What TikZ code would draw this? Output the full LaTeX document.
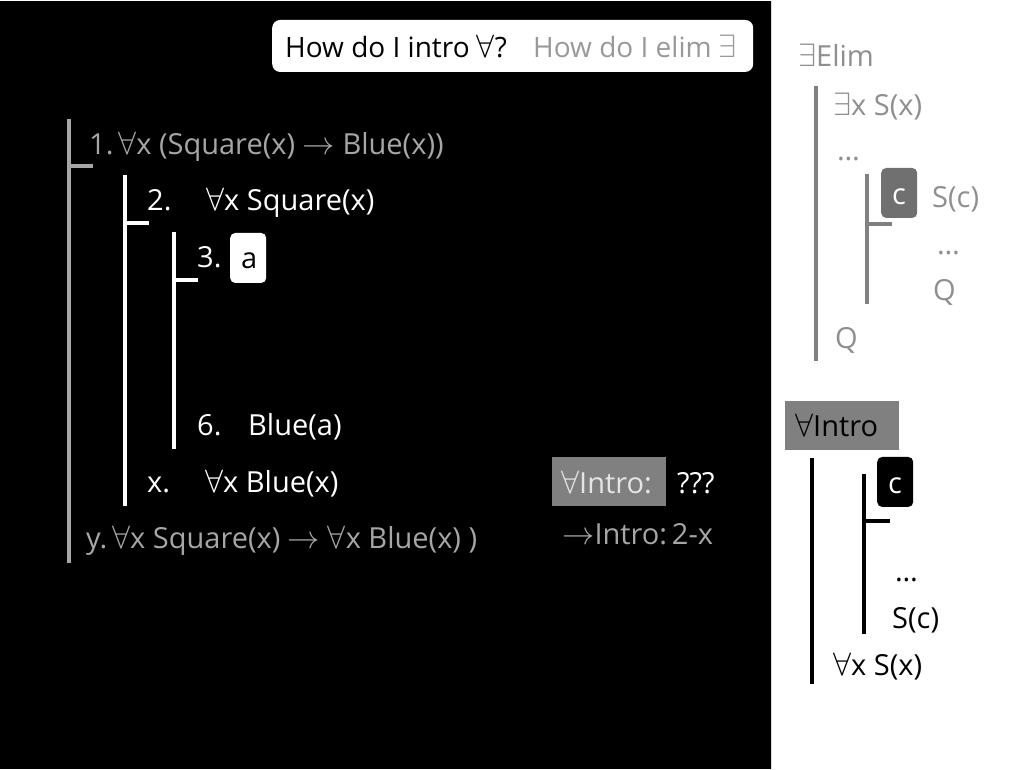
\documentclass[tikz,border=0pt]{standalone}
\usepackage{graphicx}
\usepackage{fontspec}
\setsansfont{Open Sans}
\usetikzlibrary{positioning}
\definecolor{dimtext}{HTML}{A6A6A6}
\definecolor{paneltext}{HTML}{8F8F8F}
\definecolor{panelbar}{HTML}{808080}
\definecolor{tagfill}{HTML}{707070}
\definecolor{rulefill}{HTML}{808080}
\newcommand\allsym{\scalebox{1.3}{$\forall$}}
\newcommand\exsym{\scalebox{1.3}{$\exists$}}
\newcommand\impsym{\scalebox{1.3}{$\rightarrow$}}
\begin{document}
\begin{tikzpicture}[
    x=1pt, y=-1pt,
    font=\sffamily\fontsize{29}{34}\selectfont,
    txt/.style={
        anchor=base west,
        inner sep=0pt,
        text=white
    },
    dim/.style={
        txt,
        text=dimtext
    },
    pane/.style={
        txt,
        text=paneltext
    },
    bar/.style={
        line width=4pt
    },
    tag/.style={
        rectangle,
        rounded corners=5pt,
        minimum width=36pt,
        minimum height=50pt,
        inner sep=0pt
    },
    rule/.style={
        rectangle,
        fill=rulefill,
        inner sep=0pt,
        anchor=north west
    }
]

    % Background
    \fill [black] (0,0) rectangle (771,768);
    \fill [white] (771,0) rectangle (1024,768);
    \draw [black!15, line width=1.5pt] (771.5,0) -- (771.5,768);

    % Question box
    \node [rectangle, rounded corners=8pt, fill=white, anchor=north west, minimum width=481pt, minimum height=52pt] (ask) at (272,19) {};
    \node [txt, text=black, font=\sffamily\fontsize{28}{32}\selectfont] (askall) at (285,57) {How do I intro \allsym?};
    \node [txt, text=black!40, font=\sffamily\fontsize{28}{32}\selectfont] (askex) at (533,57) {How do I elim \exsym};

    % Proof bars
    \coordinate (b1top) at (69,118);
    \coordinate (b1bot) at (69,562);
    \coordinate (b2top) at (125,174);
    \coordinate (b2bot) at (125,505);
    \coordinate (b3top) at (173.5,231);
    \coordinate (b3bot) at (173.5,448);
    \draw [bar, dimtext] (b1top) -- (b1bot) (69,165) -- ++(24,0);
    \draw [bar, white] (b2top) -- (b2bot) (125,222) -- ++(24,0);
    \draw [bar, white] (b3top) -- (b3bot) (173.5,279) -- ++(24.5,0);

    % Proof lines
    \node [dim] (l1) at (89,154) {1.\,\allsym x (Square(x) \impsym\ Blue(x))};
    \node [txt] (n2) at (147,210) {2.};
    \node [txt] (l2) at (206,210) {\allsym x Square(x)};
    \node [txt] (n3) at (197,267) {3.};
    \node [tag, fill=white, anchor=north west] (boxa) at (230,232) {};
    \node [txt, text=black] (a) at (241,268) {a};
    \node [txt] (n6) at (197,435) {6.};
    \node [txt] (l6) at (248,435) {Blue(a)};
    \node [txt] (nx) at (147,492) {x.};
    \node [txt] (lx) at (205,492) {\allsym x Blue(x)};
    \node [dim] (ly) at (86,548) {y.\,\allsym x Square(x) \impsym\ \allsym x Blue(x) )};

    % Rules
    \node [rule, minimum width=114pt, minimum height=49pt] (allintro) at (552,456) {};
    \node [txt, text=black!10] (allintrotxt) at (561,493) {\allsym Intro:};
    \node [txt] (unknown) at (677,493) {???};
    \node [dim] (impintro) at (562,544) {\impsym Intro:\,2-x};

    % Panel: exists elim
    \node [pane] (exelim) at (798,66) {\exsym Elim};
    \draw [bar, panelbar] (816,85) -- (816,360);
    \node [pane] (exs) at (833,115) {\exsym x S(x)};
    \node [pane] (exdots) at (837,160) {\dots};
    \draw [bar, panelbar] (867,173) -- (867,303) (867,223) -- ++(25,0);
    \node [tag, fill=tagfill, anchor=north west] (exc) at (881,167) {};
    \node [txt] (exctxt) at (892,204) {c};
    \node [pane] (exsc) at (932,207) {S(c)};
    \node [pane] (exdots2) at (937,254) {\dots};
    \node [pane] (exq) at (933,300) {Q};
    \node [pane] (exq2) at (835,348) {Q};

    % Panel: forall intro
    \node [rule, minimum width=114pt, minimum height=49pt] (fiintro) at (785,400) {};
    \node [txt, text=black] (fiintrotxt) at (795,436) {\allsym Intro};
    \draw [bar, black] (812,457) -- (812,683);
    \draw [bar, black] (863.5,473) -- (863.5,633) (863.5,520) -- ++(26,0);
    \node [tag, fill=black, anchor=north west] (fic) at (877,456) {};
    \node [txt] (fictxt) at (888,493) {c};
    \node [txt, text=black] (fidots) at (895,581) {\dots};
    \node [txt, text=black] (fisc) at (892,628) {S(c)};
    \node [txt, text=black] (fis) at (833,675) {\allsym x S(x)};

\end{tikzpicture}
\end{document}
